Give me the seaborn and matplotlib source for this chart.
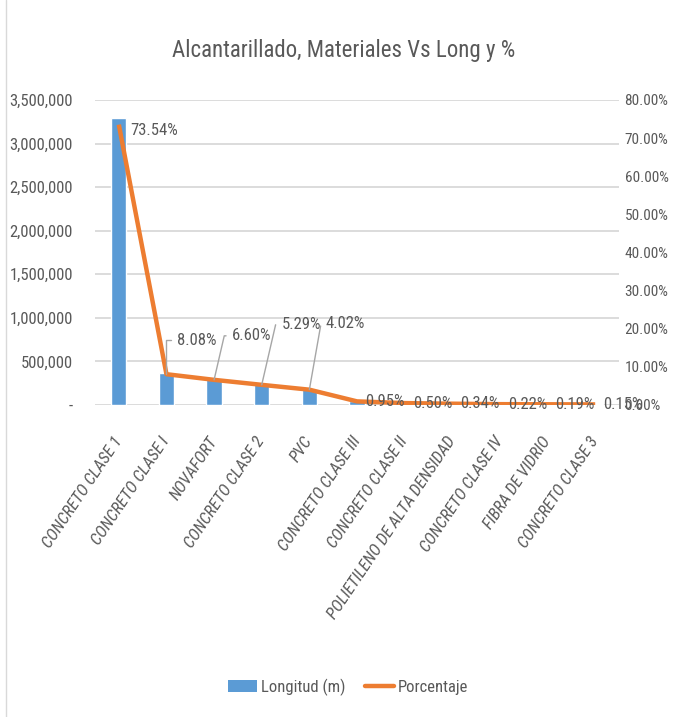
import numpy as np
import pandas as pd
import matplotlib
matplotlib.use("Agg")
import matplotlib.pyplot as plt
import seaborn as sns
from matplotlib.ticker import FuncFormatter, MultipleLocator
from matplotlib.lines import Line2D
from matplotlib.patches import Patch

materiales = [
    "CONCRETO CLASE 1", "CONCRETO CLASE I", "NOVAFORT", "CONCRETO CLASE 2",
    "PVC", "CONCRETO CLASE III", "CONCRETO CLASE II",
    "POLIETILENO DE ALTA DENSIDAD", "CONCRETO CLASE IV", "FIBRA DE VIDRIO",
    "CONCRETO CLASE 3",
]
longitud_m = [3295000, 362000, 296000, 237000, 180000, 42600, 22400,
              15200, 9860, 8510, 6720]
porcentaje = [73.54, 8.08, 6.60, 5.29, 4.02, 0.95, 0.50, 0.34, 0.22, 0.19, 0.15]

df = pd.DataFrame({"Material": materiales, "Longitud": longitud_m,
                   "Porcentaje": np.array(porcentaje) / 100.0})
df["pos"] = np.arange(len(df))

sns.set_theme(style="white")
FONT = ["Liberation Sans Narrow", "Roboto Condensed", "DejaVu Sans"]
plt.rcParams["font.family"] = FONT
TXT = "#595959"
BLUE = "#5B9BD5"
ORANGE = "#ED7D31"
GRID = "#D9D9D9"

fig = plt.figure(figsize=(6.73, 7.17), dpi=100)
ax = fig.add_axes([95 / 673, 1 - 405 / 717, 524 / 673, 305 / 717])

sns.barplot(data=df, x="Material", y="Longitud", color=BLUE, width=0.32,
            saturation=1, ax=ax, zorder=2)
ax.set_ylim(0, 3500000)
ax.yaxis.set_major_locator(MultipleLocator(500000))
ax.yaxis.set_major_formatter(FuncFormatter(lambda v, p: "-" if v == 0 else f"{v:,.0f}"))
ax.grid(axis="y", color=GRID, lw=1.3, zorder=0)
ax.set_axisbelow(True)
for s in ax.spines.values():
    s.set_visible(False)
ax.set_xlabel("")
ax.set_ylabel("")
ax.tick_params(axis="y", length=0, pad=16, labelsize=12, labelcolor=TXT)
ax.tick_params(axis="x", length=0, pad=24, labelsize=12, labelcolor=TXT)
for lab in ax.get_xticklabels():
    lab.set_rotation(56)
    lab.set_ha("right")
    lab.set_va("center")
    lab.set_rotation_mode("anchor")
    lab.set_fontstyle("italic")
ax.set_xlim(-0.5, len(df) - 0.5)

ax2 = ax.twinx()
sns.lineplot(data=df, x="pos", y="Porcentaje", color=ORANGE, lw=3.2, ax=ax2,
             zorder=3, solid_capstyle="butt")
ax2.set_ylim(0, 0.8)
ax2.yaxis.set_major_locator(MultipleLocator(0.1))
ax2.yaxis.set_major_formatter(FuncFormatter(lambda v, p: f"{v * 100:.2f}%"))
ax2.tick_params(axis="y", length=0, pad=4, labelsize=11, labelcolor=TXT)
for s in ax2.spines.values():
    s.set_visible(False)
ax2.set_ylabel("")
ax2.set_xlabel("")
ax2.set_xlim(-0.5, len(df) - 0.5)

# data labels
lbl = dict(fontsize=12, color=TXT, textcoords="offset pixels", va="center", ha="left")
ax2.annotate(f"{porcentaje[0]:.2f}%", (0, df.Porcentaje[0]), xytext=(11, -6), **lbl)
leader = {1: ((11, 34), 90), 2: ((18, 44), 77), 3: ((20, 60), 77), 4: ((16, 66), 80)}
for i, ((dx, dy), ang) in leader.items():
    ax2.annotate(f"{porcentaje[i]:.2f}%", (i, df.Porcentaje[i]), xytext=(dx, dy),
                 arrowprops=dict(arrowstyle="-", color="#A6A6A6", lw=1.0,
                                 shrinkA=2, shrinkB=0, relpos=(0, 0.5),
                                 connectionstyle=f"angle,angleA=0,angleB={ang},rad=0"),
                 **lbl)
for i in range(5, len(df)):
    ax2.annotate(f"{porcentaje[i]:.2f}%", (i, df.Porcentaje[i]), xytext=(8, 0), **lbl)

fig.text(0.51, 1 - 50 / 717, "Alcantarillado, Materiales Vs Long y %",
         ha="center", va="center", fontsize=16.5, color=TXT)

handles = [Patch(facecolor=BLUE, edgecolor="none"),
           Line2D([0], [0], color=ORANGE, lw=3.2)]
fig.legend(handles, ["Longitud (m)", "Porcentaje"], loc="center",
           bbox_to_anchor=(348 / 673, 1 - 687 / 717), ncol=2, frameon=False,
           fontsize=12, labelcolor=TXT, handlelength=1.75, handleheight=0.8,
           handletextpad=0.2, columnspacing=1.2)

fig.add_artist(Line2D([6 / 673, 6 / 673], [0, 1], color="#D9D9D9", lw=1.0))

fig.savefig("out.png", dpi=100)
